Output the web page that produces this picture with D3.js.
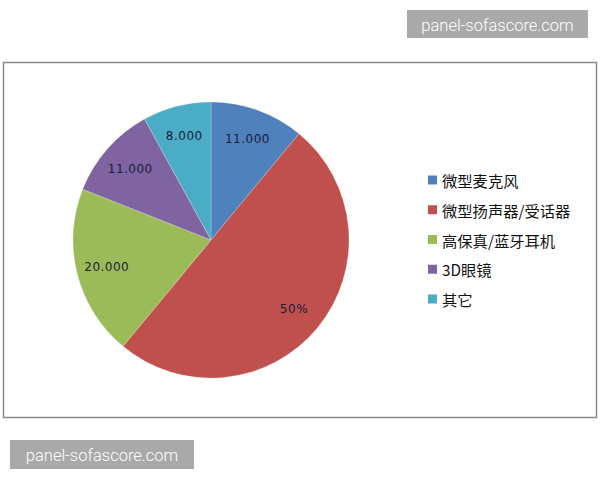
<!DOCTYPE html>
<html><head><meta charset="utf-8">
<script src="https://cdn.jsdelivr.net/npm/d3@7"></script>
<style>body{margin:0;background:#fff}svg{display:block}</style>
</head><body>
<svg id="c" width="600" height="480"></svg>
<script>
const categories = ["微型麦克风","微型扬声器/受话器","高保真/蓝牙耳机","3D眼镜","其它"];
const values = [11, 50, 20, 11, 8];
const labels = ["11.000","50%","20.000","11.000","8.000"];
const colors = ["#4F81BD","#C0504D","#9BBB59","#8064A2","#4BACC6"];
const watermark = "panel-sofascore.com";

const svg = d3.select("#c");
const font = "'DejaVu Sans', 'Noto Sans CJK SC', sans-serif";

// chart border
svg.append("rect").attr("x",3.5).attr("y",62.5).attr("width",593).attr("height",355)
  .attr("fill","#fff").attr("stroke","#888").attr("stroke-width",1.5);

const cx = 211, cy = 240, R = 138;
const pie = d3.pie().sort(null).value(d=>d)(values);
const arc = d3.arc().innerRadius(0).outerRadius(R);
const labelArc = d3.arc().innerRadius(R*0.78).outerRadius(R*0.78);
const g = svg.append("g").attr("transform",`translate(${cx},${cy})`);
g.selectAll("path").data(pie).join("path")
  .attr("d",arc).attr("fill",(d,i)=>colors[i])
  .attr("stroke","rgba(255,255,255,0.35)").attr("stroke-width",0.6);
g.selectAll("text").data(pie).join("text")
  .attr("transform",d=>`translate(${labelArc.centroid(d)})`)
  .attr("text-anchor","middle").attr("dominant-baseline","central")
  .attr("font-family",font).attr("font-size",12).attr("fill","#1b1b3a")
  .attr("letter-spacing",0.5)
  .text((d,i)=>labels[i]);

// legend
const ly = d3.scalePoint().domain(categories).range([180,299]);
const lg = svg.append("g");
categories.forEach((c,i)=>{
  lg.append("rect").attr("x",428).attr("y",ly(c)-4.5).attr("width",9).attr("height",9).attr("fill",colors[i]);
  lg.append("text").attr("x",442).attr("y",ly(c)).attr("dominant-baseline","central")
    .attr("font-family","'Noto Sans CJK SC', 'DejaVu Sans', sans-serif").attr("font-size",15.3).attr("fill","#111").text(c);
});

// watermarks
function wm(x,y,w,h){
  svg.append("rect").attr("x",x).attr("y",y).attr("width",w).attr("height",h).attr("fill","#a9a9a9");
  svg.append("text").attr("x",x+w/2).attr("y",y+h/2+1).attr("text-anchor","middle")
    .attr("dominant-baseline","central").attr("font-family","Roboto, 'DejaVu Sans', sans-serif")
    .attr("font-size",16.5).attr("font-weight",300).attr("fill","#fff").text(watermark);
}
wm(407,10,181,28);
wm(10,440,184,29);
</script>
</body></html>
